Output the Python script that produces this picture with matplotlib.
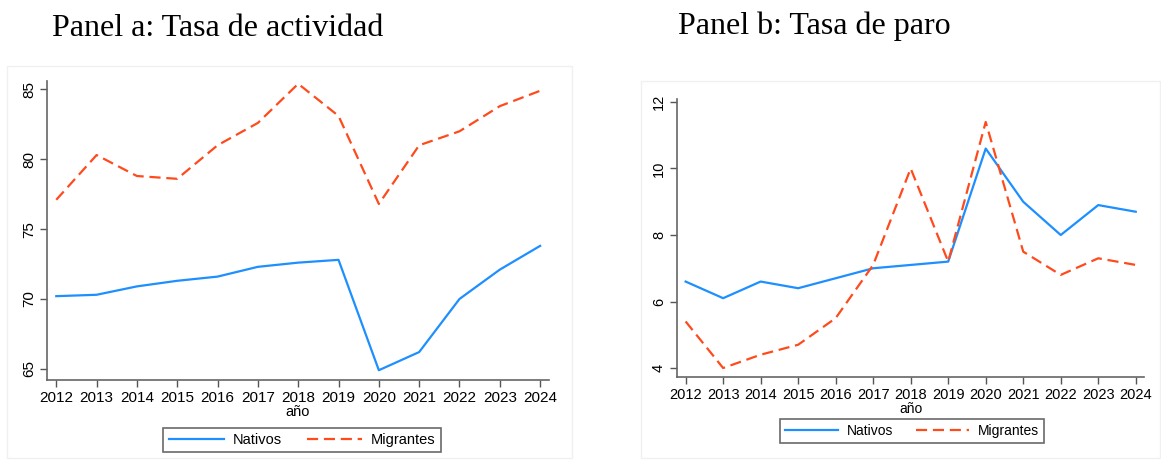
import matplotlib
matplotlib.use("Agg")
import matplotlib.pyplot as plt
from matplotlib.patches import Rectangle

# data
years = [2012, 2013, 2014, 2015, 2016, 2017, 2018, 2019, 2020, 2021, 2022, 2023, 2024]
act_nativos = [70.2, 70.3, 70.9, 71.3, 71.6, 72.3, 72.6, 72.8, 64.9, 66.2, 70.0, 72.1, 73.8]
act_migrantes = [77.1, 80.3, 78.8, 78.6, 81.0, 82.6, 85.4, 83.1, 76.8, 81.0, 82.0, 83.8, 84.9]
paro_nativos = [6.6, 6.1, 6.6, 6.4, 6.7, 7.0, 7.1, 7.2, 10.6, 9.0, 8.0, 8.9, 8.7]
paro_migrantes = [5.4, 4.0, 4.4, 4.7, 5.5, 7.1, 10.0, 7.2, 11.4, 7.5, 6.8, 7.3, 7.1]
act_ticks = [65, 70, 75, 80, 85]
paro_ticks = [4, 6, 8, 10, 12]

plt.rcParams['font.family'] = ['Liberation Sans', 'DejaVu Sans']

W, H = 1161, 461
fig = plt.figure(figsize=(W / 100, H / 100), dpi=100)


def box(x0, y0, x1, y1):
    # pixel box (top-left origin) -> figure fraction
    return [x0 / W, 1 - y1 / H, (x1 - x0) / W, (y1 - y0) / H]


# faint Stata graph-region frames
for x0, y0, x1, y1 in [(7, 66, 572, 458), (641, 81, 1160, 458)]:
    fig.patches.append(Rectangle((x0 / W, 1 - y1 / H), (x1 - x0) / W, (y1 - y0) / H,
                                 transform=fig.transFigure, fill=False,
                                 edgecolor='#f0f0f0', lw=1))

blue = '#1E8FFF'
orange = '#FF4A1C'

panels = [
    (box(47, 81, 549, 380), act_nativos, act_migrantes, act_ticks, (64.2, 85.6),
     "Panel a: Tasa de actividad", (52, 29), (302, 440), 11),
    (box(677, 99, 1144, 377), paro_nativos, paro_migrantes, paro_ticks, (3.73, 12.09),
     "Panel b: Tasa de paro", (678, 26), (912, 431), 10.5),
]

for rect, nat, mig, ticks, ylim, title, tpos, lpos, fs in panels:
    ax = fig.add_axes(rect)
    ax.plot(years, nat, color=blue, lw=1.6, label='Nativos')
    ax.plot(years, mig, color=orange, lw=1.6, dashes=(5, 2.6), label='Migrantes')
    ax.set_xlim(years[0] - 0.23, years[-1] + 0.22)
    ax.set_ylim(*ylim)
    ax.set_xticks(years)
    ax.set_yticks(ticks)
    ax.tick_params(axis='x', labelsize=fs, length=5, width=1, color='#555555', pad=3)
    ax.tick_params(axis='y', labelsize=fs, length=5, width=1, color='#555555', pad=3)
    for lab in ax.get_yticklabels():
        lab.set_rotation(90)
        lab.set_va('center')
    for s in ['top', 'right']:
        ax.spines[s].set_visible(False)
    for s in ['left', 'bottom']:
        ax.spines[s].set_color('#666666')
        ax.spines[s].set_linewidth(1.2)
    ax.set_xlabel('año', fontsize=fs - 0.5, labelpad=0)
    leg = ax.legend(loc='center', bbox_to_anchor=(lpos[0] / W, 1 - lpos[1] / H),
                    bbox_transform=fig.transFigure, ncol=2, fontsize=fs - 0.5,
                    frameon=True, fancybox=False, handlelength=3.8, columnspacing=1.7,
                    borderpad=0.35, handletextpad=0.6, borderaxespad=0)
    leg.get_frame().set_edgecolor('#444444')
    leg.get_frame().set_linewidth(1.2)
    fig.text(tpos[0] / W, 1 - tpos[1] / H, title, family='Liberation Serif',
             fontsize=23, va='center', ha='left')

fig.savefig('out.png', dpi=100)
